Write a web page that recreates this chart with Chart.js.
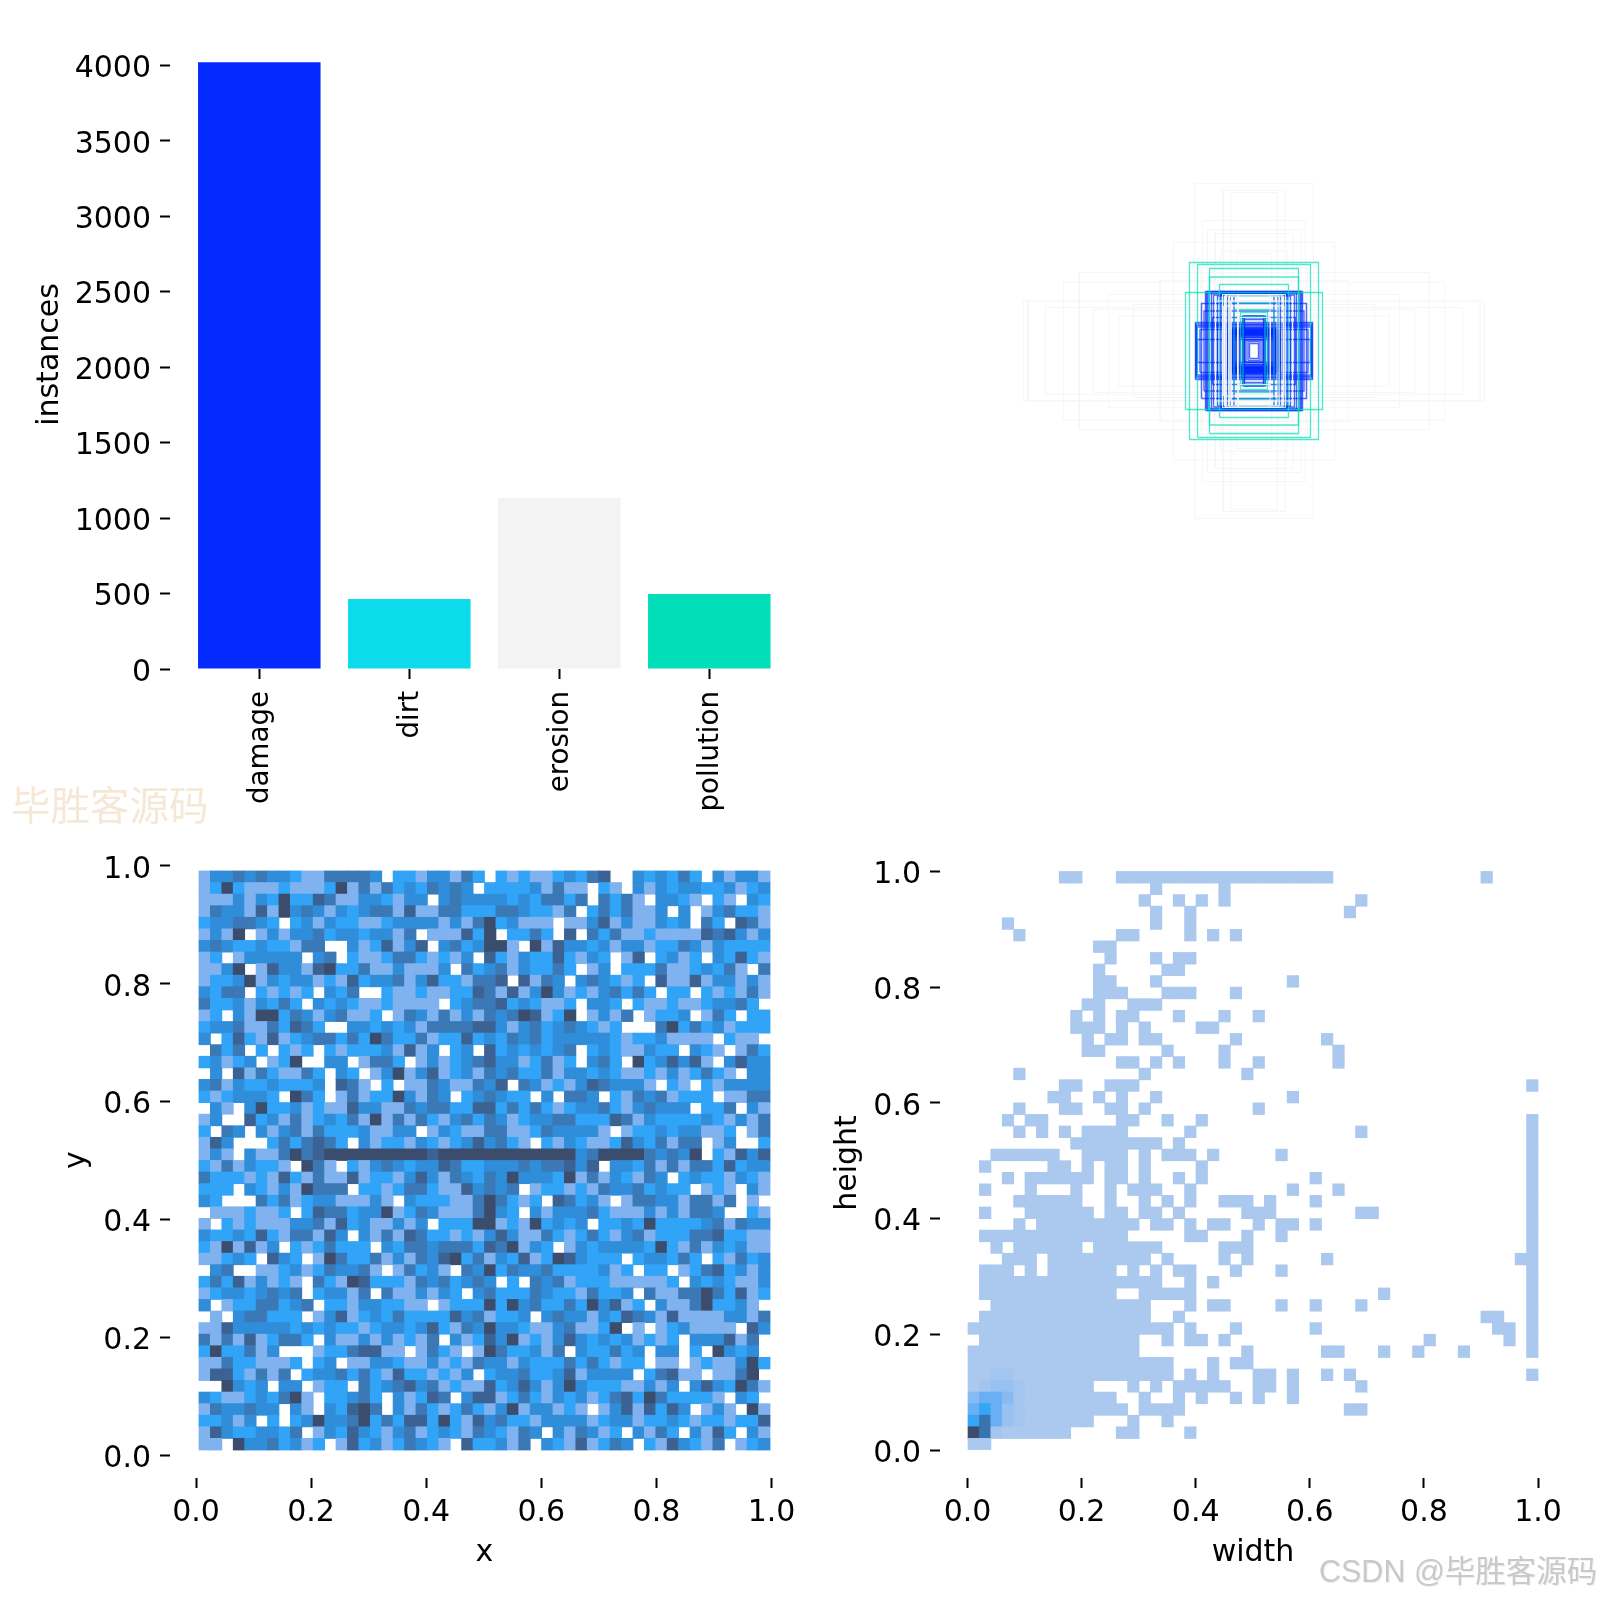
<!DOCTYPE html>
<html lang="en">

<head>
    <meta charset="UTF-8">
    <title>labels</title>
    <script src="https://cdn.jsdelivr.net/npm/chart.js"></script>
    <style>
        body { margin: 0; background: #fff; width: 1600px; height: 1600px; position: relative; overflow: hidden; }
        canvas { position: absolute; }
        .mark { position: absolute; white-space: nowrap; line-height: 1; }
    </style>
</head>

<body>
    <canvas id="bars" width="800" height="810" style="left:0;top:0"></canvas>
    <canvas id="boxes" width="600" height="600" style="left:954px;top:51px"></canvas>
    <canvas id="xy" width="840" height="790" style="left:0;top:810px"></canvas>
    <canvas id="wh" width="800" height="790" style="left:800px;top:810px"></canvas>
    <div class="mark" style="left:11px;top:774px;font:39.5px 'Noto Sans CJK SC';color:#f6e8d6">毕胜客源码</div>
    <div class="mark" style="left:1319px;top:1547px;font:30.5px 'Liberation Sans','Noto Sans CJK SC';color:#c9c9c9;text-shadow:1px 1px 1px #eee">CSDN @<span style="font-family:'Noto Sans CJK SC'">毕胜客源码</span></div>

    <script>
        // class counts
        const classNames = ['damage', 'dirt', 'erosion', 'pollution'];
        const classCounts = [4020, 464, 1133, 497];
        const classColors = ['#042AFF', '#0BDBEB', '#F3F3F3', '#00DFB7'];
        const countTicks = [0, 500, 1000, 1500, 2000, 2500, 3000, 3500, 4000];
        const unitTicks = [0, 0.2, 0.4, 0.6, 0.8, 1];

        const erosionBoxes = [[119, 335], [62, 321], [47, 317], [103, 261], [93, 243], [78, 235], [161, 218], [35, 195], [461, 100], [417, 87], [381, 138], [350, 157], [321, 83], [291, 113], [271, 70], [241, 93], [188, 141], [452, 99], [67, 200], [107, 167]];
        const erosionTopBoxes = [[59, 110], [50, 110], [33, 67], [60, 90], [32, 113], [63, 113], [77, 100], [56, 113], [46, 100]];
        const pollutionBoxes = [[129, 177], [113, 173], [89, 165], [89, 148], [137, 117], [69, 133], [27, 77], [51, 97], [22, 69], [40, 83], [60, 110]];
        const damageBoxes = [[97, 119], [105, 95], [117, 57], [116, 54], [115, 51], [114, 48], [108, 43], [113, 23], [81, 112], [90, 115], [95, 117], [93, 119], [85, 118], [73, 110], [67, 113], [64, 117], [60, 115], [53, 113], [48, 112], [40, 113], [100, 80], [83, 67], [73, 53], [48, 38], [50, 40], [47, 37], [49, 36], [44, 35], [41, 39], [46, 34], [39, 33], [37, 37], [33, 32], [30, 40], [27, 33], [23, 70], [22, 67], [20, 63], [19, 70], [16, 23], [12, 19], [9, 15], [21, 27], [19, 22], [50, 30], [43, 27], [53, 43], [57, 47], [52, 37], [45, 41], [43, 45], [40, 43], [48, 42], [46, 44], [35, 33], [31, 30], [28, 36], [51, 39], [47, 35], [48, 33], [49, 34], [46, 36], [50, 38], [45, 38]];

        // x/y histogram, top row first, one digit per cell
        const xyRows = [
            '1334343321144443022133142 0212112324500323242031331',
            '1262111211126141423243430 2222314110210313233223123',
            '1113132622541133213303433 3323244240424103321021032',
            '1433151634313234415114422 2443221402424113030134221',
            '2334432023132211233331314 6231110113513113230420541',
            '1316013133423323314011152 6022420504241121111545313',
            '3432232214400312513503423 6610615332313312243132222',
            '1201333330340211244212130 5213225213201502312032521',
            '1136015331562241131113042 3413224201302224112324104',
            '1223613233121523341352214 4505143034321205115133131',
            '3244021212032400211211225 4151363121342420220212141',
            '4223132420323211211110234 4523211203320211211233420',
            '1203166243134112014314131 4346512601314012230142022',
            '2334114254200332323144445 5313423432120004624231222',
            '3025215123442426422412252 3243423333321223111102110',
            '0424020212021222315130230 5232323402321132203210142',
            '2312301260033014420131234 5331241203420623535103533',
            '0305142114203201361351231 4342241332321121312421033',
            '3413223222305410201143114 3504312135433310210213333',
            '2123332064201412263143023 4322030443021434122201144',
            '0310362231211533114344225 5242421233421343330224031',
            '1300523141232416141421342 4312334422254132222321314',
            '2043031341422231133013211 4411243333101223233112014',
            '1530002424542031221321235 3421021321125324144013002',
            '1310311464566666666656666 6666666634666643436021535',
            '2141322106410213432335422 3334344535033241414425233',
            '4222121521411512213531432 4363332614132143023221321',
            '2220321316444022124421153 4340122121433423220121031',
            '3200042412331113103222114 6421205423101443314414010',
            '0111211202544233612431114 6320313334211131314430021',
            '1021211133415231131302226 6121623230223262222341433',
            '3223252144153031415422121 3531142124213412224452211',
            '2161513021242220324434442 5461320132333326214132311',
            '1123205320164224131435624 1325126532220233242021423',
            '0340011231243341014231043 6243342222312022012452313',
            '2425131210421652221434234 3020434122211111203232113',
            '1233234340233140411313203 4222432214223041144642512',
            '3012244234022133221101222 6263422426351203114622310',
            '0103442220135123242222534 1223034331325431511113314',
            '1153333323232212332352143 6332113411260101231111053',
            '4141512442031131312140312 5361213532323121203335140',
            '2622413000122455110142101 6422314032242303302063230',
            '1142211120230113321131214 3313222424212201101211362',
            '1552141402334242152212130 2334223513333024511011460',
            '0063230330122042345341211 5235313632221131303532641',
            '3211232461022342031254035 5124213231245264222210320',
            '1433433031032564031421242 1361331210135152530131061',
            '2231302023633462425526215 3422133331233122321221225',
            '1532233240132532134123214 3214303143120314203152031',
            '1106334231201523124321052 2314032151243021532140123'
        ];
        const xyColors = ['#ffffff', '#7fb2ef', '#31a4f7', '#2f8dda', '#3a78b6', '#3b6292', '#3b4c6c'];

        // width/height histogram, occupied columns in each row, top row first
        const whRows = [
            '8-9 13-31 45',
            '16 22',
            '15 18 20 22 34',
            '16 19 33',
            '3 16 19',
            '4 13-14 19 21 23',
            '11-12',
            '12 16 18-19',
            '11 17-18',
            '11-12 16 28',
            '11-13 17-19 23',
            '10-11 14-16',
            '9 11 13-14 18 22 25',
            '9-11 13 15 20-21',
            '10 12-13 15-16 23 31',
            '10-11 17 22 32',
            '13-14 16 18 22 25 32',
            '4 15 24',
            '8-9 12-14 49',
            '7-8 11 13 16 28',
            '4 8-9 12-13 15 25',
            '3 5-6 13-14 17 20 49',
            '4 6 8 10-13 19 34 49',
            '9-16 18 49',
            '2-7 10-13 15 17-19 21 27 49',
            '1 7-8 10 12-13 15 20 49',
            '3 5-10 12-13 15 18 20 30 49',
            '1 5 9 12 14-16 19 28 32 49',
            '4-9 12 15 17 19 22-24 26 30 49',
            '1 5-10 12-13 15-16 18 24-26 34-35 49',
            '4 6-14 16-17 19 21-22 25 27-28 30 49',
            '1-13 19-20 24 27 49',
            '2 4-9 11-16 22-24 49',
            '3-5 7-15 17 22 24 31 48-49',
            '1-3 5 7-12 14 16 18-19 23 27 49',
            '1-16 19 21 49',
            '1-12 15-19 36 49',
            '2-15 19 21-22 27 30 34 49',
            '1-15 18 45-46 49',
            '0-17 19 23 30 46-47 49',
            '1-14 17 19-20 22 40 47 49',
            '0-14 24 31-32 36 39 43 49',
            '0-17 21 23-24',
            '0-17 19 21 25-26 28 31 33 49',
            '0-10 14 16 18-22 25-26 28 34',
            '0-12 15 18 20 23 25 28',
            '0-13 15-18 33-34',
            '0-10 14 17',
            '0-8 13-14 19',
            '0-1'
        ];
        // denser cells [row, column, level], everything else in whRows is level 1
        const whPeaks = [[43, 2, 2], [43, 3, 2], [44, 1, 2], [44, 2, 3], [44, 3, 3], [44, 4, 2], [45, 0, 4], [45, 1, 5], [45, 2, 5], [45, 3, 4], [45, 4, 2], [46, 0, 5], [46, 1, 6], [46, 2, 5], [46, 3, 3], [46, 4, 2], [47, 0, 6], [47, 1, 7], [47, 2, 5], [47, 3, 3], [47, 4, 2], [48, 0, 8], [48, 1, 7], [48, 2, 2]];
        const whColors = ['#ffffff', '#abc8ee', '#a3c5ef', '#97c1f0', '#86baf1', '#68aff4', '#35a5f7', '#3a74b0', '#3b4c6c'];

        Chart.defaults.font.family = '"DejaVu Sans"';
        Chart.defaults.font.size = 30;
        Chart.defaults.color = '#000';
        Chart.defaults.animation = false;

        const labelFont = { size: 30 };

        // value axis range so that value 0 sits at px0 and value 1 at px1
        function rangeFor(start, end, px0, px1) {
            const perUnit = px1 - px0;
            return [(start - px0) / perUnit, (end - px0) / perUnit];
        }

        function axis(min, max, tickValues, size, title, titlePad, format, extra) {
            const isX = size.height !== undefined;
            return Object.assign({
                type: 'linear',
                min: min,
                max: max,
                offset: false,
                border: { display: false },
                grid: { offset: false, drawOnChartArea: false, tickLength: 10, tickColor: '#000', tickWidth: 2 },
                ticks: { autoSkip: false, padding: isX ? 7 : 9, labelOffset: isX ? 0 : 4, font: labelFont, callback: format },
                title: title ? { display: true, text: title, font: labelFont, padding: titlePad } : { display: false },
                afterBuildTicks: ax => { ax.ticks = tickValues.map(v => ({ value: v })); },
                afterFit: ax => { Object.assign(ax, size); }
            }, extra || {});
        }

        function heatOptions(top, right, xAxis, yAxis) {
            return {
                responsive: false,
                layout: { padding: { left: 0, top: top, right: right, bottom: 0 } },
                plugins: { legend: { display: false }, tooltip: { enabled: false } },
                scales: { x: xAxis, y: yAxis }
            };
        }

        // class bars
        const barX = rangeFor(170, 785, 259.3, 409.3);
        const barY = [0, (669 - 40) / 603.7 * 4000];
        new Chart(document.getElementById('bars'), {
            type: 'bar',
            data: {
                datasets: [{
                    data: classCounts.map((c, i) => ({ x: i, y: c })),
                    backgroundColor: classColors,
                    barPercentage: 1,
                    categoryPercentage: 0.8167
                }]
            },
            options: {
                responsive: false,
                layout: { padding: { left: 0, top: 40, right: 15, bottom: 0 } },
                plugins: { legend: { display: false }, tooltip: { enabled: false } },
                scales: {
                    x: axis(barX[0], barX[1], [0, 1, 2, 3], { height: 141 }, '', 0, v => classNames[v], {
                        ticks: { autoSkip: false, padding: 12, labelOffset: 1.5, font: { size: 27.7 }, minRotation: 90, maxRotation: 90, callback: v => classNames[v] }
                    }),
                    y: axis(barY[0], barY[1], countTicks, { width: 170 }, 'instances', { top: 32.5, bottom: 0 }, v => String(v))
                }
            }
        });

        // box overlay, each box is a closed line around the centre
        function boxLine(size, color, lineWidth) {
            const [w, h] = size;
            const l = 300 - w / 2, r = 300 + w / 2, t = 300 - h / 2, b = 300 + h / 2;
            return {
                data: [{ x: l, y: t }, { x: r, y: t }, { x: r, y: b }, { x: l, y: b }, { x: l, y: t }],
                borderColor: color,
                borderWidth: lineWidth,
                pointRadius: 0,
                tension: 0
            };
        }
        const boxSets = [].concat(
            erosionTopBoxes.map(s => boxLine(s, 'rgba(243,243,243,0.9)', 1)),
            pollutionBoxes.map(s => boxLine(s, 'rgba(0,223,183,0.7)', 1.3)),
            damageBoxes.map(s => boxLine(s, 'rgba(4,42,255,0.7)', 1.4)),
            erosionBoxes.map(s => boxLine(s, '#f6f6f6', 1))
        );
        new Chart(document.getElementById('boxes'), {
            type: 'line',
            data: { datasets: boxSets },
            options: {
                responsive: false,
                plugins: { legend: { display: false }, tooltip: { enabled: false } },
                scales: {
                    x: { type: 'linear', display: false, min: 0, max: 600 },
                    y: { type: 'linear', display: false, min: 0, max: 600 }
                }
            }
        });

        // cell list for a heat panel, bin edges are in data units
        function heatCells(levelAt, xLo, xHi, yLo, yHi) {
            const cells = [];
            const dx = (xHi - xLo) / 50, dy = (yHi - yLo) / 50;
            for (let r = 0; r < 50; r++) {
                for (let c = 0; c < 50; c++) {
                    const level = levelAt(r, c);
                    if (!level) continue;
                    const top = yHi - r * dy;
                    cells.push({ x: xLo + (c + 0.5) * dx, y: [top - dy, top], level: level });
                }
            }
            return cells;
        }

        function heatChart(id, cells, colors, options) {
            new Chart(document.getElementById(id), {
                type: 'bar',
                data: {
                    datasets: [{
                        data: cells,
                        backgroundColor: ctx => colors[ctx.raw ? ctx.raw.level : 0],
                        barPercentage: 1,
                        categoryPercentage: 1,
                        inflateAmount: 0.4
                    }]
                },
                options: options
            });
        }

        const fixed1 = v => v.toFixed(1);
        const xTitlePad = { top: 0, bottom: 29 };

        // x / y panel, canvas is 41px wider than the plot so the 1.0 label has room
        const xyDigits = xyRows.map(r => r.replace(/ /g, ''));
        const xyCells = heatCells((r, c) => Number(xyDigits[r][c]), (199 - 196) / 575.5, (770 - 196) / 575.5, (1455 - 1450) / 589, (1455 - 871) / 589);
        const xyX = rangeFor(170, 799, 196, 771.5);
        const xyY = rangeFor(1478, 842, 1455, 866);
        heatChart('xy', xyCells, xyColors, heatOptions(32, 41,
            axis(xyX[0], xyX[1], unitTicks, { height: 122 }, 'x', xTitlePad, fixed1),
            axis(xyY[0], xyY[1], unitTicks, { width: 170 }, 'y', { top: 59, bottom: 0 }, fixed1)));

        // width / height panel
        const whLevels = whRows.map(row => {
            const levels = new Array(50).fill(0);
            row.split(' ').forEach(part => {
                const ends = part.split('-').map(Number);
                for (let c = ends[0]; c <= ends[ends.length - 1]; c++) levels[c] = 1;
            });
            return levels;
        });
        whPeaks.forEach(p => { whLevels[p[0]][p[1]] = p[2]; });
        const whCells = heatCells((r, c) => whLevels[r][c], 0.001, 1, 0, 1);
        const whX = rangeFor(140, 766, 167.5, 738);
        const whY = rangeFor(1478, 848, 1450, 871.5);
        heatChart('wh', whCells, whColors, heatOptions(38, 34,
            axis(whX[0], whX[1], unitTicks, { height: 122 }, 'width', xTitlePad, fixed1),
            axis(whY[0], whY[1], unitTicks, { width: 140 }, 'height', { top: 30, bottom: 0 }, fixed1)));
    </script>
</body>

</html>
